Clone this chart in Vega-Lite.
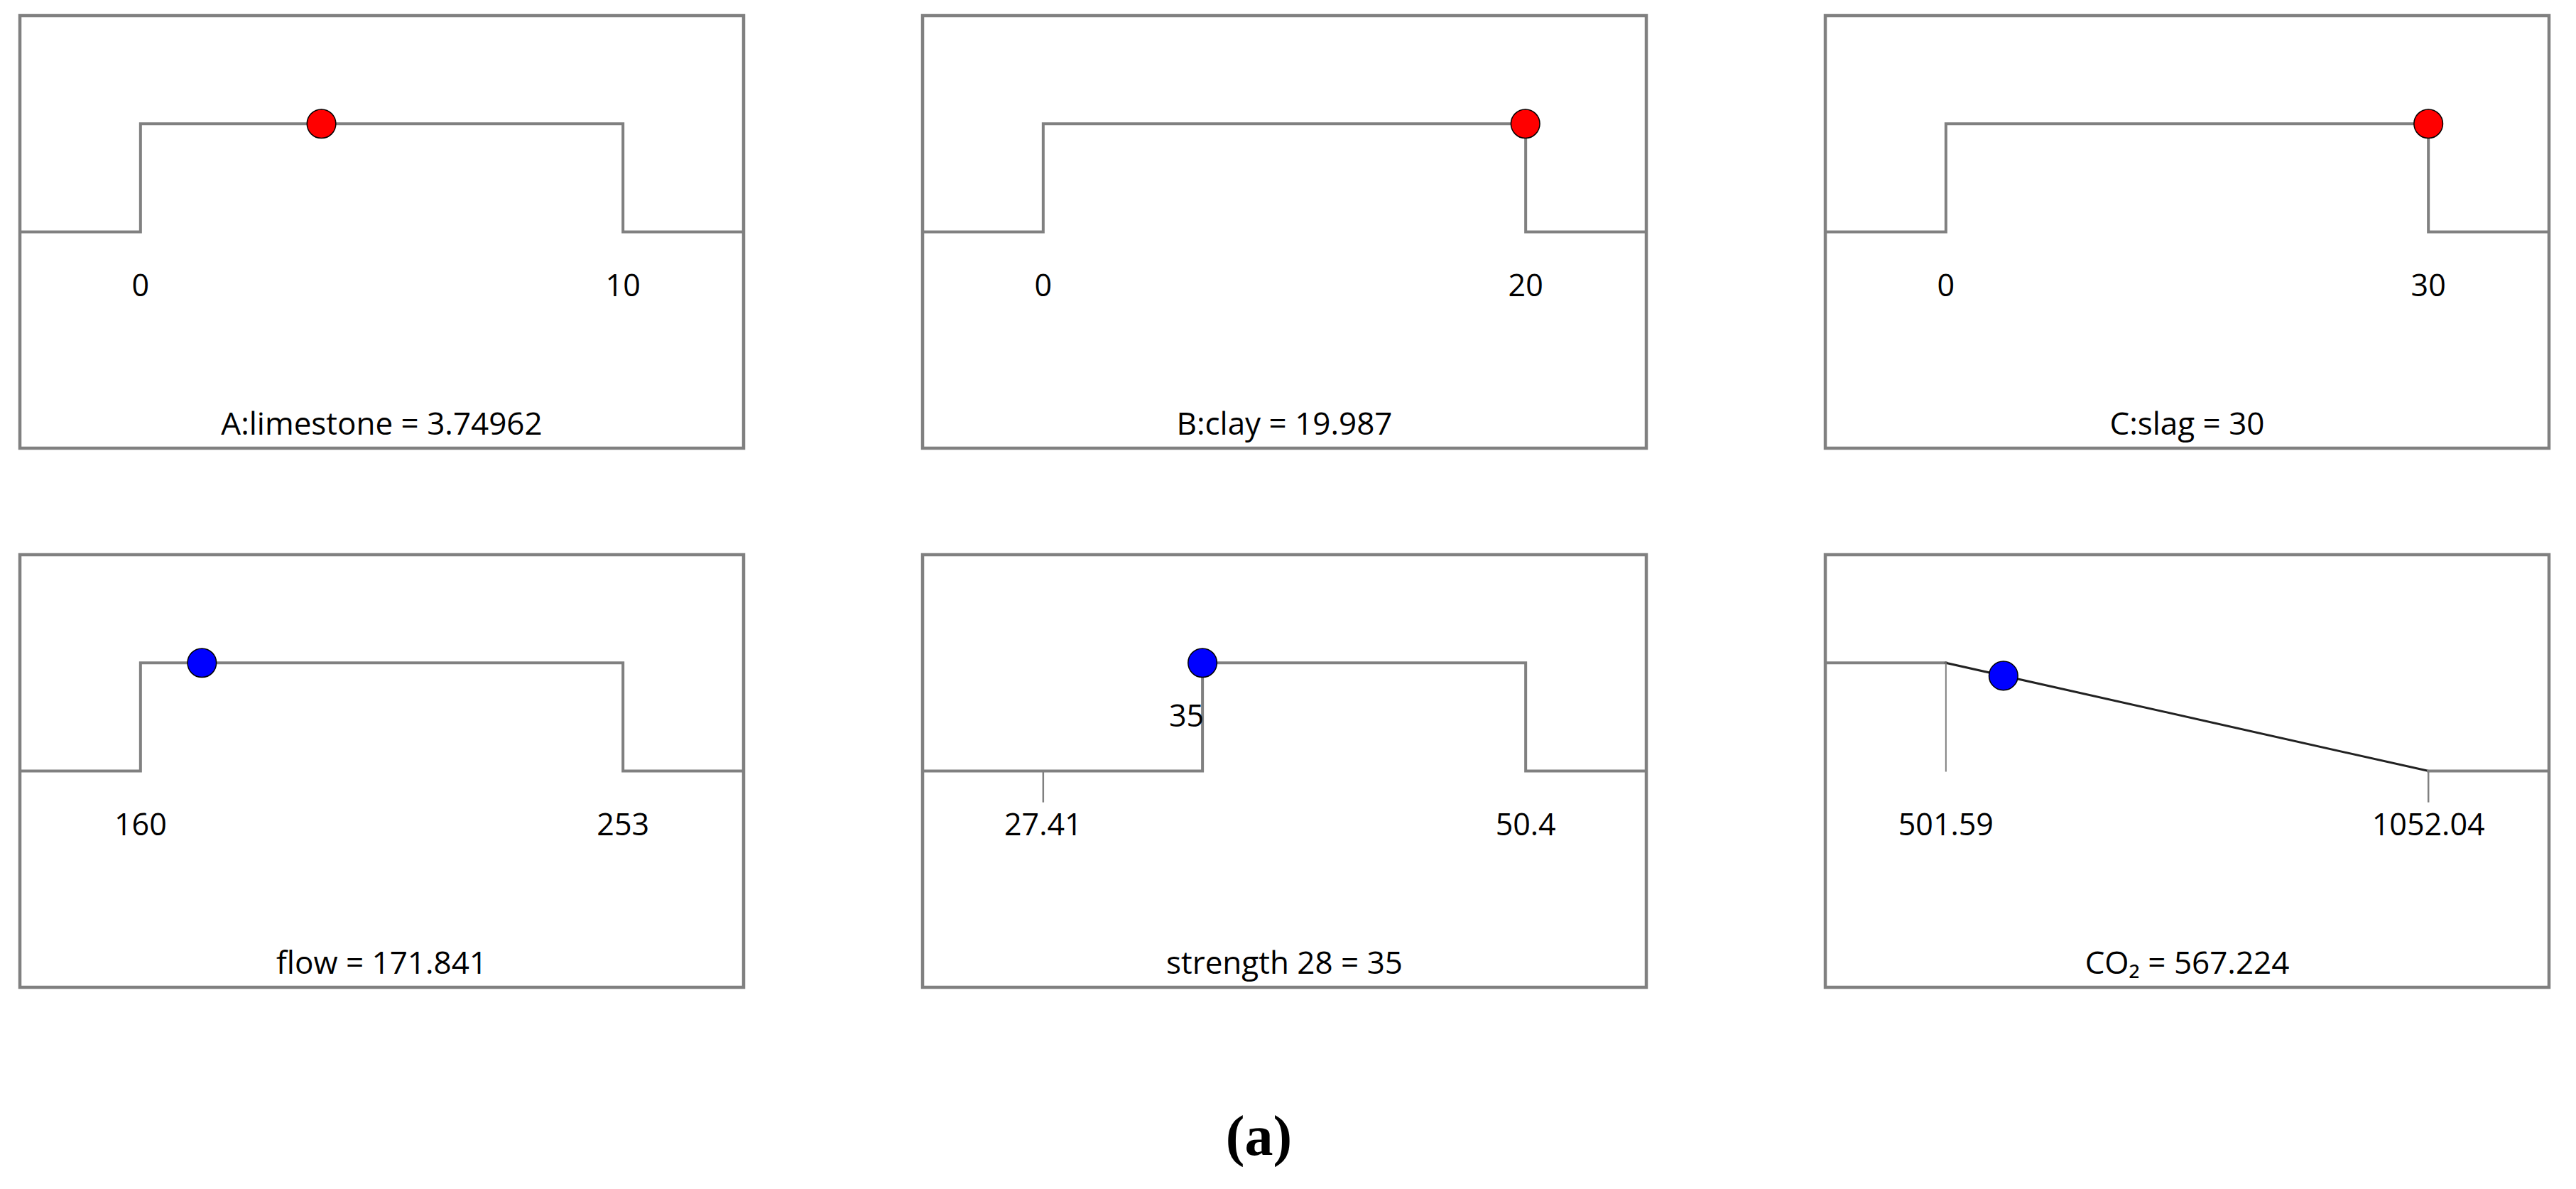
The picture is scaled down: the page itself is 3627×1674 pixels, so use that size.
{
  "$schema": "https://vega.github.io/schema/vega-lite/v6.json",
  "background": "white",
  "padding": {"left": 17, "top": 19, "right": 0, "bottom": 0},
  "config": {
    "view": {"stroke": "#808080", "strokeWidth": 4.5},
    "text": {"font": "Open Sans", "color": "#000000"}
  },
  "title": {"text": "(a)", "orient": "bottom", "anchor": "middle", "font": "Liberation Serif", "fontSize": 80, "fontWeight": "bold", "color": "#000000", "offset": 171, "dx": -36},
  "datasets": {
    "profile": [
      {"panel": "A", "seg": "A1", "kind": "limit", "o": 1, "x": -2.5, "d": 0},
      {"panel": "A", "seg": "A1", "kind": "limit", "o": 2, "x": 0, "d": 0},
      {"panel": "A", "seg": "A1", "kind": "limit", "o": 3, "x": 0, "d": 1},
      {"panel": "A", "seg": "A1", "kind": "limit", "o": 4, "x": 10, "d": 1},
      {"panel": "A", "seg": "A1", "kind": "limit", "o": 5, "x": 10, "d": 0},
      {"panel": "A", "seg": "A1", "kind": "limit", "o": 6, "x": 12.5, "d": 0},
      {"panel": "B", "seg": "B1", "kind": "limit", "o": 1, "x": -5, "d": 0},
      {"panel": "B", "seg": "B1", "kind": "limit", "o": 2, "x": 0, "d": 0},
      {"panel": "B", "seg": "B1", "kind": "limit", "o": 3, "x": 0, "d": 1},
      {"panel": "B", "seg": "B1", "kind": "limit", "o": 4, "x": 20, "d": 1},
      {"panel": "B", "seg": "B1", "kind": "limit", "o": 5, "x": 20, "d": 0},
      {"panel": "B", "seg": "B1", "kind": "limit", "o": 6, "x": 25, "d": 0},
      {"panel": "C", "seg": "C1", "kind": "limit", "o": 1, "x": -7.5, "d": 0},
      {"panel": "C", "seg": "C1", "kind": "limit", "o": 2, "x": 0, "d": 0},
      {"panel": "C", "seg": "C1", "kind": "limit", "o": 3, "x": 0, "d": 1},
      {"panel": "C", "seg": "C1", "kind": "limit", "o": 4, "x": 30, "d": 1},
      {"panel": "C", "seg": "C1", "kind": "limit", "o": 5, "x": 30, "d": 0},
      {"panel": "C", "seg": "C1", "kind": "limit", "o": 6, "x": 37.5, "d": 0},
      {"panel": "F", "seg": "F1", "kind": "limit", "o": 1, "x": 136.75, "d": 0},
      {"panel": "F", "seg": "F1", "kind": "limit", "o": 2, "x": 160, "d": 0},
      {"panel": "F", "seg": "F1", "kind": "limit", "o": 3, "x": 160, "d": 1},
      {"panel": "F", "seg": "F1", "kind": "limit", "o": 4, "x": 253, "d": 1},
      {"panel": "F", "seg": "F1", "kind": "limit", "o": 5, "x": 253, "d": 0},
      {"panel": "F", "seg": "F1", "kind": "limit", "o": 6, "x": 276.25, "d": 0},
      {"panel": "S", "seg": "S1", "kind": "limit", "o": 1, "x": 21.6625, "d": 0},
      {"panel": "S", "seg": "S1", "kind": "limit", "o": 2, "x": 35, "d": 0},
      {"panel": "S", "seg": "S1", "kind": "limit", "o": 3, "x": 35, "d": 1},
      {"panel": "S", "seg": "S1", "kind": "limit", "o": 4, "x": 50.4, "d": 1},
      {"panel": "S", "seg": "S1", "kind": "limit", "o": 5, "x": 50.4, "d": 0},
      {"panel": "S", "seg": "S1", "kind": "limit", "o": 6, "x": 56.1475, "d": 0},
      {"panel": "E", "seg": "E1", "kind": "limit", "o": 1, "x": 363.9775, "d": 1},
      {"panel": "E", "seg": "E1", "kind": "limit", "o": 2, "x": 501.59, "d": 1},
      {"panel": "E", "seg": "E2", "kind": "ramp", "o": 1, "x": 501.59, "d": 1},
      {"panel": "E", "seg": "E2", "kind": "ramp", "o": 2, "x": 1052.04, "d": 0},
      {"panel": "E", "seg": "E3", "kind": "limit", "o": 1, "x": 1052.04, "d": 0},
      {"panel": "E", "seg": "E3", "kind": "limit", "o": 2, "x": 1189.6525, "d": 0},
      {"panel": "E", "seg": "E4", "kind": "guide", "o": 1, "x": 501.59, "d": 1},
      {"panel": "E", "seg": "E4", "kind": "guide", "o": 2, "x": 501.59, "d": 0}
    ],
    "ticks": [
      {"panel": "S", "x": 27.41},
      {"panel": "E", "x": 1052.04}
    ],
    "points": [
      {"panel": "A", "x": 3.74962, "d": 1, "role": "factor"},
      {"panel": "B", "x": 19.987, "d": 1, "role": "factor"},
      {"panel": "C", "x": 30, "d": 1, "role": "factor"},
      {"panel": "F", "x": 171.841, "d": 1, "role": "response"},
      {"panel": "S", "x": 35, "d": 1, "role": "response"},
      {"panel": "E", "x": 567.224, "d": 0.8808, "role": "response"}
    ],
    "labels": [
      {"panel": "A", "x": 0, "label": "0"},
      {"panel": "A", "x": 10, "label": "10"},
      {"panel": "B", "x": 0, "label": "0"},
      {"panel": "B", "x": 20, "label": "20"},
      {"panel": "C", "x": 0, "label": "0"},
      {"panel": "C", "x": 30, "label": "30"},
      {"panel": "F", "x": 160, "label": "160"},
      {"panel": "F", "x": 253, "label": "253"},
      {"panel": "S", "x": 27.41, "label": "27.41"},
      {"panel": "S", "x": 50.4, "label": "50.4"},
      {"panel": "E", "x": 501.59, "label": "501.59"},
      {"panel": "E", "x": 1052.04, "label": "1052.04"}
    ],
    "current": [
      {"panel": "S", "x": 35, "label": "35"}
    ],
    "titles": [
      {"panel": "A", "x": 5, "title": "A:limestone = 3.74962"},
      {"panel": "B", "x": 10, "title": "B:clay = 19.987"},
      {"panel": "C", "x": 15, "title": "C:slag = 30"},
      {"panel": "F", "x": 206.5, "title": "flow = 171.841"},
      {"panel": "S", "x": 38.905, "title": "strength 28 = 35"},
      {"panel": "E", "x": 776.815, "title": "CO₂ = 567.224"}
    ]
  },
  "columns": 3,
  "spacing": {"row": 150, "column": 252},
  "bounds": "flush",
  "concat": [
    {"width": 1019, "height": 609, "layer": [
      {"data": {"name": "profile"}, "transform": [{"filter": "datum.panel === 'A'"}], "mark": {"type": "line", "strokeCap": "square", "strokeJoin": "miter"}, "encoding": {"x": {"field": "x", "type": "quantitative", "scale": {"zero": false, "nice": false}, "axis": null}, "y": {"field": "d", "type": "quantitative", "scale": {"domain": [-2, 2]}, "axis": null}, "detail": {"field": "seg"}, "order": {"field": "o"}, "color": {"field": "kind", "type": "nominal", "scale": {"domain": ["limit", "ramp", "guide"], "range": ["#808080", "#222222", "#808080"]}, "legend": null}, "strokeWidth": {"field": "kind", "type": "ordinal", "scale": {"domain": ["limit", "ramp", "guide"], "range": [4, 2, 2.5]}, "legend": null}}},
      {"data": {"name": "points"}, "transform": [{"filter": "datum.panel === 'A'"}], "mark": {"type": "circle", "size": 1650, "stroke": "#000000", "strokeWidth": 1.5, "opacity": 1}, "encoding": {"x": {"field": "x", "type": "quantitative"}, "y": {"field": "d", "type": "quantitative"}, "fill": {"field": "role", "type": "nominal", "scale": {"domain": ["factor", "response"], "range": ["#ff0000", "#0000ff"]}, "legend": null}}},
      {"data": {"name": "labels"}, "transform": [{"filter": "datum.panel === 'A'"}], "mark": {"type": "text", "fontSize": 43, "baseline": "middle", "align": "center"}, "encoding": {"x": {"field": "x", "type": "quantitative"}, "y": {"datum": -0.512}, "text": {"field": "label"}}},
      {"data": {"name": "titles"}, "transform": [{"filter": "datum.panel === 'A'"}], "mark": {"type": "text", "fontSize": 44, "baseline": "middle", "align": "center"}, "encoding": {"x": {"field": "x", "type": "quantitative"}, "y": {"datum": -1.788}, "text": {"field": "title"}}}
    ]},
    {"width": 1019, "height": 609, "layer": [
      {"data": {"name": "profile"}, "transform": [{"filter": "datum.panel === 'B'"}], "mark": {"type": "line", "strokeCap": "square", "strokeJoin": "miter"}, "encoding": {"x": {"field": "x", "type": "quantitative", "scale": {"zero": false, "nice": false}, "axis": null}, "y": {"field": "d", "type": "quantitative", "scale": {"domain": [-2, 2]}, "axis": null}, "detail": {"field": "seg"}, "order": {"field": "o"}, "color": {"field": "kind", "type": "nominal", "scale": {"domain": ["limit", "ramp", "guide"], "range": ["#808080", "#222222", "#808080"]}, "legend": null}, "strokeWidth": {"field": "kind", "type": "ordinal", "scale": {"domain": ["limit", "ramp", "guide"], "range": [4, 2, 2.5]}, "legend": null}}},
      {"data": {"name": "points"}, "transform": [{"filter": "datum.panel === 'B'"}], "mark": {"type": "circle", "size": 1650, "stroke": "#000000", "strokeWidth": 1.5, "opacity": 1}, "encoding": {"x": {"field": "x", "type": "quantitative"}, "y": {"field": "d", "type": "quantitative"}, "fill": {"field": "role", "type": "nominal", "scale": {"domain": ["factor", "response"], "range": ["#ff0000", "#0000ff"]}, "legend": null}}},
      {"data": {"name": "labels"}, "transform": [{"filter": "datum.panel === 'B'"}], "mark": {"type": "text", "fontSize": 43, "baseline": "middle", "align": "center"}, "encoding": {"x": {"field": "x", "type": "quantitative"}, "y": {"datum": -0.512}, "text": {"field": "label"}}},
      {"data": {"name": "titles"}, "transform": [{"filter": "datum.panel === 'B'"}], "mark": {"type": "text", "fontSize": 44, "baseline": "middle", "align": "center"}, "encoding": {"x": {"field": "x", "type": "quantitative"}, "y": {"datum": -1.788}, "text": {"field": "title"}}}
    ]},
    {"width": 1019, "height": 609, "layer": [
      {"data": {"name": "profile"}, "transform": [{"filter": "datum.panel === 'C'"}], "mark": {"type": "line", "strokeCap": "square", "strokeJoin": "miter"}, "encoding": {"x": {"field": "x", "type": "quantitative", "scale": {"zero": false, "nice": false}, "axis": null}, "y": {"field": "d", "type": "quantitative", "scale": {"domain": [-2, 2]}, "axis": null}, "detail": {"field": "seg"}, "order": {"field": "o"}, "color": {"field": "kind", "type": "nominal", "scale": {"domain": ["limit", "ramp", "guide"], "range": ["#808080", "#222222", "#808080"]}, "legend": null}, "strokeWidth": {"field": "kind", "type": "ordinal", "scale": {"domain": ["limit", "ramp", "guide"], "range": [4, 2, 2.5]}, "legend": null}}},
      {"data": {"name": "points"}, "transform": [{"filter": "datum.panel === 'C'"}], "mark": {"type": "circle", "size": 1650, "stroke": "#000000", "strokeWidth": 1.5, "opacity": 1}, "encoding": {"x": {"field": "x", "type": "quantitative"}, "y": {"field": "d", "type": "quantitative"}, "fill": {"field": "role", "type": "nominal", "scale": {"domain": ["factor", "response"], "range": ["#ff0000", "#0000ff"]}, "legend": null}}},
      {"data": {"name": "labels"}, "transform": [{"filter": "datum.panel === 'C'"}], "mark": {"type": "text", "fontSize": 43, "baseline": "middle", "align": "center"}, "encoding": {"x": {"field": "x", "type": "quantitative"}, "y": {"datum": -0.512}, "text": {"field": "label"}}},
      {"data": {"name": "titles"}, "transform": [{"filter": "datum.panel === 'C'"}], "mark": {"type": "text", "fontSize": 44, "baseline": "middle", "align": "center"}, "encoding": {"x": {"field": "x", "type": "quantitative"}, "y": {"datum": -1.788}, "text": {"field": "title"}}}
    ]},
    {"width": 1019, "height": 609, "layer": [
      {"data": {"name": "profile"}, "transform": [{"filter": "datum.panel === 'F'"}], "mark": {"type": "line", "strokeCap": "square", "strokeJoin": "miter"}, "encoding": {"x": {"field": "x", "type": "quantitative", "scale": {"zero": false, "nice": false}, "axis": null}, "y": {"field": "d", "type": "quantitative", "scale": {"domain": [-2, 2]}, "axis": null}, "detail": {"field": "seg"}, "order": {"field": "o"}, "color": {"field": "kind", "type": "nominal", "scale": {"domain": ["limit", "ramp", "guide"], "range": ["#808080", "#222222", "#808080"]}, "legend": null}, "strokeWidth": {"field": "kind", "type": "ordinal", "scale": {"domain": ["limit", "ramp", "guide"], "range": [4, 2, 2.5]}, "legend": null}}},
      {"data": {"name": "points"}, "transform": [{"filter": "datum.panel === 'F'"}], "mark": {"type": "circle", "size": 1650, "stroke": "#000000", "strokeWidth": 1.5, "opacity": 1}, "encoding": {"x": {"field": "x", "type": "quantitative"}, "y": {"field": "d", "type": "quantitative"}, "fill": {"field": "role", "type": "nominal", "scale": {"domain": ["factor", "response"], "range": ["#ff0000", "#0000ff"]}, "legend": null}}},
      {"data": {"name": "labels"}, "transform": [{"filter": "datum.panel === 'F'"}], "mark": {"type": "text", "fontSize": 43, "baseline": "middle", "align": "center"}, "encoding": {"x": {"field": "x", "type": "quantitative"}, "y": {"datum": -0.512}, "text": {"field": "label"}}},
      {"data": {"name": "titles"}, "transform": [{"filter": "datum.panel === 'F'"}], "mark": {"type": "text", "fontSize": 44, "baseline": "middle", "align": "center"}, "encoding": {"x": {"field": "x", "type": "quantitative"}, "y": {"datum": -1.788}, "text": {"field": "title"}}}
    ]},
    {"width": 1019, "height": 609, "layer": [
      {"data": {"name": "profile"}, "transform": [{"filter": "datum.panel === 'S'"}], "mark": {"type": "line", "strokeCap": "square", "strokeJoin": "miter"}, "encoding": {"x": {"field": "x", "type": "quantitative", "scale": {"zero": false, "nice": false}, "axis": null}, "y": {"field": "d", "type": "quantitative", "scale": {"domain": [-2, 2]}, "axis": null}, "detail": {"field": "seg"}, "order": {"field": "o"}, "color": {"field": "kind", "type": "nominal", "scale": {"domain": ["limit", "ramp", "guide"], "range": ["#808080", "#222222", "#808080"]}, "legend": null}, "strokeWidth": {"field": "kind", "type": "ordinal", "scale": {"domain": ["limit", "ramp", "guide"], "range": [4, 2, 2.5]}, "legend": null}}},
      {"data": {"name": "ticks"}, "transform": [{"filter": "datum.panel === 'S'"}], "mark": {"type": "rule", "color": "#808080", "strokeWidth": 2.5}, "encoding": {"x": {"field": "x", "type": "quantitative"}, "y": {"datum": 0}, "y2": {"datum": -0.29}}},
      {"data": {"name": "points"}, "transform": [{"filter": "datum.panel === 'S'"}], "mark": {"type": "circle", "size": 1650, "stroke": "#000000", "strokeWidth": 1.5, "opacity": 1}, "encoding": {"x": {"field": "x", "type": "quantitative"}, "y": {"field": "d", "type": "quantitative"}, "fill": {"field": "role", "type": "nominal", "scale": {"domain": ["factor", "response"], "range": ["#ff0000", "#0000ff"]}, "legend": null}}},
      {"data": {"name": "current"}, "transform": [{"filter": "datum.panel === 'S'"}], "mark": {"type": "text", "fontSize": 43, "baseline": "middle", "align": "right", "dx": 2}, "encoding": {"x": {"field": "x", "type": "quantitative"}, "y": {"datum": 0.493}, "text": {"field": "label"}}},
      {"data": {"name": "labels"}, "transform": [{"filter": "datum.panel === 'S'"}], "mark": {"type": "text", "fontSize": 43, "baseline": "middle", "align": "center"}, "encoding": {"x": {"field": "x", "type": "quantitative"}, "y": {"datum": -0.512}, "text": {"field": "label"}}},
      {"data": {"name": "titles"}, "transform": [{"filter": "datum.panel === 'S'"}], "mark": {"type": "text", "fontSize": 44, "baseline": "middle", "align": "center"}, "encoding": {"x": {"field": "x", "type": "quantitative"}, "y": {"datum": -1.788}, "text": {"field": "title"}}}
    ]},
    {"width": 1019, "height": 609, "layer": [
      {"data": {"name": "profile"}, "transform": [{"filter": "datum.panel === 'E'"}], "mark": {"type": "line", "strokeCap": "square", "strokeJoin": "miter"}, "encoding": {"x": {"field": "x", "type": "quantitative", "scale": {"zero": false, "nice": false}, "axis": null}, "y": {"field": "d", "type": "quantitative", "scale": {"domain": [-2, 2]}, "axis": null}, "detail": {"field": "seg"}, "order": {"field": "o"}, "color": {"field": "kind", "type": "nominal", "scale": {"domain": ["limit", "ramp", "guide"], "range": ["#808080", "#222222", "#808080"]}, "legend": null}, "strokeWidth": {"field": "kind", "type": "ordinal", "scale": {"domain": ["limit", "ramp", "guide"], "range": [4, 2, 2.5]}, "legend": null}}},
      {"data": {"name": "ticks"}, "transform": [{"filter": "datum.panel === 'E'"}], "mark": {"type": "rule", "color": "#808080", "strokeWidth": 2.5}, "encoding": {"x": {"field": "x", "type": "quantitative"}, "y": {"datum": 0}, "y2": {"datum": -0.29}}},
      {"data": {"name": "points"}, "transform": [{"filter": "datum.panel === 'E'"}], "mark": {"type": "circle", "size": 1650, "stroke": "#000000", "strokeWidth": 1.5, "opacity": 1}, "encoding": {"x": {"field": "x", "type": "quantitative"}, "y": {"field": "d", "type": "quantitative"}, "fill": {"field": "role", "type": "nominal", "scale": {"domain": ["factor", "response"], "range": ["#ff0000", "#0000ff"]}, "legend": null}}},
      {"data": {"name": "labels"}, "transform": [{"filter": "datum.panel === 'E'"}], "mark": {"type": "text", "fontSize": 43, "baseline": "middle", "align": "center"}, "encoding": {"x": {"field": "x", "type": "quantitative"}, "y": {"datum": -0.512}, "text": {"field": "label"}}},
      {"data": {"name": "titles"}, "transform": [{"filter": "datum.panel === 'E'"}], "mark": {"type": "text", "fontSize": 44, "baseline": "middle", "align": "center"}, "encoding": {"x": {"field": "x", "type": "quantitative"}, "y": {"datum": -1.788}, "text": {"field": "title"}}}
    ]}
  ]
}
